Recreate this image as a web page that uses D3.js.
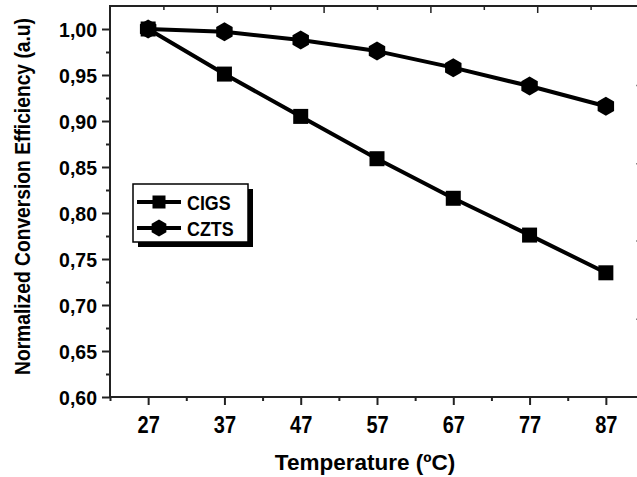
<!DOCTYPE html>
<html>
<head>
<meta charset="utf-8">
<script src="https://cdn.jsdelivr.net/npm/d3@7"></script>
<style>
  html, body { margin: 0; padding: 0; background: #fff; }
  svg { display: block; }
  text { font-family: Arial, "Liberation Sans", Helvetica, sans-serif; font-weight: bold; fill: #000; }
</style>
</head>
<body>
<svg id="chart" width="637" height="477"></svg>
<script>
// ---- data ----
const temperatures = [27, 37, 47, 57, 67, 77, 87];
const cigs = [1.000, 0.951, 0.905, 0.859, 0.816, 0.776, 0.735];
const czts = [1.000, 0.997, 0.988, 0.976, 0.958, 0.938, 0.916];
const yTicks = [0.60, 0.65, 0.70, 0.75, 0.80, 0.85, 0.90, 0.95, 1.00];
const yMinorTicks = [0.625, 0.675, 0.725, 0.775, 0.825, 0.875, 0.925, 0.975, 1.025];
const xMinorTicks = [22, 32, 42, 52, 62, 72, 82, 92];
const topMajorTicks = [36, 50, 64, 78];
const topMinorTicks = [29, 43, 57, 71, 85];
const rightTicks = [0.939, 0.854, 0.770, 0.685];
const seriesNames = ["CIGS", "CZTS"];
const xTitle = "Temperature (ºC)";
const yTitle = "Normalized Conversion Efficiency (a.u)";

const fmt = v => d3.format(".2f")(v).replace(".", ",");

const svg = d3.select("#chart");
const x = d3.scaleLinear().domain([22, 92]).range([110, 644]);
const y = d3.scaleLinear().domain([0.6, 1.025]).range([397, 6]);

// frame
const frame = svg.append("g");
frame.append("rect")
  .attr("x", x(22)).attr("y", y(1.025))
  .attr("width", x(92) - x(22)).attr("height", y(0.6) - y(1.025))
  .attr("fill", "none").attr("stroke", "#222").attr("stroke-width", 2);

// left axis
const yAxis = d3.axisLeft(y).tickValues(yTicks).tickSize(8).tickFormat(fmt);
const gy = svg.append("g").attr("transform", `translate(${x(22)},0)`).call(yAxis);
gy.select(".domain").remove();
gy.selectAll(".tick line").attr("stroke", "#222").attr("stroke-width", 2);
gy.selectAll(".tick text").attr("x", -13).attr("dy", "0.36em")
  .style("font-size", "19.5px").style("font-family", "Arial, 'Liberation Sans', sans-serif").style("font-weight", "bold");
const gyMinor = svg.append("g").attr("transform", `translate(${x(22)},0)`)
  .call(d3.axisLeft(y).tickValues(yMinorTicks.filter(v => v < 1.02)).tickSize(4).tickFormat(""));
gyMinor.select(".domain").remove();
gyMinor.selectAll(".tick line").attr("stroke", "#222").attr("stroke-width", 2);

// bottom axis
const xAxis = d3.axisBottom(x).tickValues(temperatures).tickSize(8).tickFormat(d3.format("d"));
const gx = svg.append("g").attr("transform", `translate(0,${y(0.6)})`).call(xAxis);
gx.select(".domain").remove();
gx.selectAll(".tick line").attr("stroke", "#222").attr("stroke-width", 2);
gx.selectAll(".tick text").text(null);
gx.selectAll(".tick").append("g").attr("transform", "translate(0,36)")
  .append("text").attr("text-anchor", "middle").attr("transform", "scale(0.87,1)")
  .style("font-size", "23px").text(d => d3.format("d")(d));
const gxMinor = svg.append("g").attr("transform", `translate(0,${y(0.6)})`)
  .call(d3.axisBottom(x).tickValues(xMinorTicks).tickSize(4).tickFormat(""));
gxMinor.select(".domain").remove();
gxMinor.selectAll(".tick line").attr("stroke", "#222").attr("stroke-width", 2);

// top axis (inward ticks)
const gt = svg.append("g").attr("transform", `translate(0,${y(1.025)})`)
  .call(d3.axisBottom(x).tickValues(topMajorTicks).tickSize(7).tickFormat(""));
gt.select(".domain").remove();
gt.selectAll(".tick line").attr("stroke", "#222").attr("stroke-width", 1.5);
const gt2 = svg.append("g").attr("transform", `translate(0,${y(1.025)})`)
  .call(d3.axisBottom(x).tickValues(topMinorTicks).tickSize(4).tickFormat(""));
gt2.select(".domain").remove();
gt2.selectAll(".tick line").attr("stroke", "#222").attr("stroke-width", 1.5);

// right axis tick tips
const gr = svg.append("g").attr("transform", `translate(${x(92)},0)`)
  .call(d3.axisLeft(y).tickValues(rightTicks).tickSize(8).tickFormat(""));
gr.select(".domain").remove();
gr.selectAll(".tick line").attr("stroke", "#888").attr("stroke-width", 1.5);

// lines
const line = d3.line().x((d, i) => x(temperatures[i])).y(d => y(d));
const plot = svg.append("g");
[cigs, czts].forEach(s => {
  plot.append("path").datum(s).attr("d", line)
    .attr("fill", "none").attr("stroke", "#000").attr("stroke-width", 4).attr("stroke-linejoin", "round");
});

function hexPath(r) {
  const pts = d3.range(6).map(k => {
    const a = Math.PI / 2 + k * Math.PI / 3;
    return [r * Math.cos(a), r * Math.sin(a)];
  });
  return "M" + pts.map(p => p.join(",")).join("L") + "Z";
}

plot.selectAll(".sq").data(cigs).join("rect")
  .attr("x", (d, i) => x(temperatures[i]) - 7.5).attr("y", d => y(d) - 7.5)
  .attr("width", 15).attr("height", 15).attr("fill", "#000");
plot.selectAll(".hx").data(czts).join("path")
  .attr("transform", (d, i) => `translate(${x(temperatures[i])},${y(d)})`)
  .attr("d", hexPath(9.5)).attr("fill", "#000");

// legend
const lg = svg.append("g");
lg.append("rect").attr("x", 138).attr("y", 189).attr("width", 115).attr("height", 58).attr("fill", "#000");
lg.append("rect").attr("x", 133).attr("y", 184).attr("width", 115).attr("height", 58)
  .attr("fill", "#fff").attr("stroke", "#000").attr("stroke-width", 1.5);
const rows = [202, 228];
seriesNames.forEach((name, i) => {
  const yy = rows[i];
  lg.append("line").attr("x1", 137).attr("x2", 181).attr("y1", yy).attr("y2", yy)
    .attr("stroke", "#000").attr("stroke-width", 4);
  if (i === 0) {
    lg.append("rect").attr("x", 159 - 6.5).attr("y", yy - 6.5).attr("width", 13).attr("height", 13).attr("fill", "#000");
  } else {
    lg.append("path").attr("transform", `translate(159,${yy})`).attr("d", hexPath(8.5)).attr("fill", "#000");
  }
  lg.append("g").attr("transform", `translate(187,${yy + 8})`)
    .append("text").attr("transform", "scale(0.85,1)").style("font-size", "21px").text(name);
});

// titles
svg.append("g").attr("transform", "translate(365,470)")
  .append("text").attr("text-anchor", "middle").style("font-size", "22.5px").text(xTitle);
svg.append("g").attr("transform", "translate(30,196.5) rotate(-90)")
  .append("text").attr("text-anchor", "middle").attr("transform", "scale(0.875,1)")
  .style("font-size", "22px").text(yTitle);
</script>
</body>
</html>
